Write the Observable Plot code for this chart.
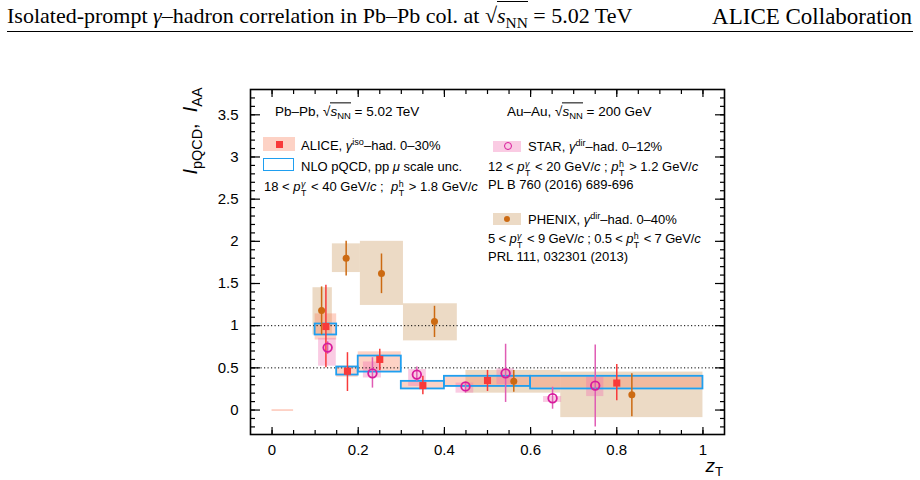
<!DOCTYPE html>
<html><head><meta charset="utf-8">
<script src="https://cdn.jsdelivr.net/npm/d3@7"></script>
<script src="https://cdn.jsdelivr.net/npm/@observablehq/plot@0.6"></script>
<style>
body{margin:0;background:#fff;}
#wrap{position:relative;width:920px;height:480px;overflow:hidden;font-family:"Liberation Sans",Arial,sans-serif;color:#000;}
#wrap svg{position:absolute;left:0;top:0;}
.hdr{position:absolute;top:5px;font-family:"Liberation Serif","Times New Roman",serif;font-size:22px;line-height:1;white-space:nowrap;}
.hrule{position:absolute;left:7px;width:906px;top:31px;height:0;border-top:1.5px solid #000;}
.lg{position:absolute;font-size:13px;white-space:nowrap;line-height:1;transform:translateY(-50%);}
.ov{border-top:1px solid #000;padding-top:1px;}
.sb{font-size:0.7em;vertical-align:-0.3em;}
.sp{font-size:0.7em;vertical-align:0.45em;}
.st{display:inline-block;position:relative;font-size:0.68em;width:0.62em;height:1em;margin:0 1px 0 0.5px;}
.st .t{position:absolute;left:0;top:-0.3em;line-height:1;}
.st .b{position:absolute;left:0;top:0.72em;line-height:1;}
.sw{position:absolute;}
.ylab{position:absolute;left:192px;top:131px;transform:translate(-50%,-50%) rotate(-90deg);white-space:nowrap;font-size:20px;line-height:1;}
.ylab .sb{font-size:0.72em;vertical-align:-0.35em;}
.xlab{position:absolute;right:197px;top:467px;transform:translateY(-50%);font-size:19px;line-height:1;white-space:nowrap;}
.xlab .sb{font-size:0.7em;vertical-align:-0.3em;}
</style></head>
<body>
<div id="wrap"></div>
<script>
// ---------- data ----------
// ALICE gamma^iso-hadron, Pb-Pb 0-30%
const aliceZ      = [0.125, 0.175, 0.25, 0.35, 0.5, 0.8];
const aliceI      = [0.99, 0.46, 0.60, 0.29, 0.35, 0.32];
const aliceStatLo = [0.50, 0.22, 0.47, 0.18, 0.22, 0.11];
const aliceStatHi = [1.48, 0.68, 0.72, 0.40, 0.47, 0.54];
const aliceBinLo  = [0.10, 0.15, 0.20, 0.30, 0.40, 0.60];
const aliceBinHi  = [0.15, 0.20, 0.30, 0.40, 0.60, 1.00];
const aliceSysLo  = [0.83, 0.39, 0.45, 0.245, 0.27, 0.26];
const aliceSysHi  = [1.14, 0.52, 0.69, 0.35, 0.40, 0.40];
// ALICE global (normalisation) uncertainty bar at z_T 0-0.05
const aliceGlobalZLo = [0.0];
const aliceGlobalZHi = [0.05];
const aliceGlobalY   = [0.0];
// NLO pQCD pp mu scale uncertainty bands
const nloLo = [0.89, 0.415, 0.45, 0.25, 0.28, 0.25];
const nloHi = [1.02, 0.51, 0.64, 0.34, 0.40, 0.40];
// STAR gamma^dir-hadron, Au-Au 0-12%
const starZ      = [0.129, 0.233, 0.336, 0.449, 0.542, 0.651, 0.75];
const starI      = [0.74, 0.435, 0.42, 0.28, 0.435, 0.14, 0.29];
const starStatLo = [0.66, 0.26, 0.34, 0.20, 0.09, 0.01, -0.20];
const starStatHi = [0.81, 0.62, 0.51, 0.32, 0.78, 0.27, 0.77];
const starBoxLo  = [0.108, 0.212, 0.317, 0.427, 0.522, 0.630, 0.730];
const starBoxHi  = [0.149, 0.254, 0.358, 0.468, 0.562, 0.672, 0.770];
const starSysLo  = [0.52, 0.38, 0.28, 0.20, 0.30, 0.09, 0.16];
const starSysHi  = [0.85, 0.57, 0.48, 0.32, 0.49, 0.16, 0.39];
// PHENIX gamma^dir-hadron, Au-Au 0-40%
const phxZ      = [0.115, 0.172, 0.254, 0.377, 0.561, 0.835];
const phxI      = [1.18, 1.80, 1.62, 1.05, 0.34, 0.18];
const phxStatLo = [0.89, 1.59, 1.38, 0.86, 0.21, -0.08];
const phxStatHi = [1.46, 2.00, 1.85, 1.23, 0.47, 0.43];
const phxBoxLo  = [0.095, 0.140, 0.205, 0.305, 0.450, 0.670];
const phxBoxHi  = [0.140, 0.205, 0.305, 0.430, 0.670, 1.000];
const phxSysLo  = [0.89, 1.63, 1.24, 0.82, 0.20, -0.09];
const phxSysHi  = [1.45, 1.97, 2.00, 1.26, 0.47, 0.45];
// reference lines
const refLines = [0.5, 1];
// ticks
const yMajorTicks = [0, 0.5, 1, 1.5, 2, 2.5, 3, 3.5];
const yMajorLabels = ["0", "0.5", "1", "1.5", "2", "2.5", "3", "3.5"];
const xMajorTicks = [0, 0.2, 0.4, 0.6, 0.8, 1];
const xMajorLabels = ["0", "0.2", "0.4", "0.6", "0.8", "1"];
const yMinorTicks = d3.range(-2, 38).map(i => i / 10);
const xMinorTicks = d3.range(0, 21).map(i => i / 20);

// ---------- tables ----------
const alice = aliceZ.map((z, i) => ({z, I: aliceI[i], lo: aliceStatLo[i], hi: aliceStatHi[i],
  x1: aliceBinLo[i], x2: aliceBinHi[i], s1: aliceSysLo[i], s2: aliceSysHi[i], n1: nloLo[i], n2: nloHi[i]}));
const star = starZ.map((z, i) => ({z, I: starI[i], lo: starStatLo[i], hi: starStatHi[i],
  x1: starBoxLo[i], x2: starBoxHi[i], s1: starSysLo[i], s2: starSysHi[i]}));
const phx = phxZ.map((z, i) => ({z, I: phxI[i], lo: phxStatLo[i], hi: phxStatHi[i],
  x1: phxBoxLo[i], x2: phxBoxHi[i], s1: phxSysLo[i], s2: phxSysHi[i]}));
const glob = aliceGlobalY.map((y, i) => ({y, x1: aliceGlobalZLo[i], x2: aliceGlobalZHi[i]}));
const yLab = new Map(yMajorTicks.map((t, i) => [t, yMajorLabels[i]]));
const xLab = new Map(xMajorTicks.map((t, i) => [t, xMajorLabels[i]]));

const C = {
  aliceBox: "#fb7d5a", alice: "#f83a3a",
  nlo: "#1f9ff0",
  starBox: "#f06bb0", star: "#d81b9c", starBar: "#e05cb4",
  phxBox: "#c8965a", phx: "#cc6a12"
};
const noText = () => "";

const plot = Plot.plot({
  width: 920, height: 480,
  marginLeft: 250, marginRight: 196, marginTop: 89, marginBottom: 46,
  x: {domain: [-0.05, 1.05]},
  y: {domain: [-0.29, 3.80]},
  style: {fontFamily: "Liberation Sans, Arial, sans-serif", fontSize: "15px", color: "#000", background: "#fff"},
  marks: [
    Plot.rect(phx, {x1: "x1", x2: "x2", y1: "s1", y2: "s2", fill: C.phxBox, fillOpacity: 0.35}),
    Plot.rect(alice, {x1: "x1", x2: "x2", y1: "s1", y2: "s2", fill: C.aliceBox, fillOpacity: 0.35}),
    Plot.rect(star, {x1: "x1", x2: "x2", y1: "s1", y2: "s2", fill: C.starBox, fillOpacity: 0.35}),
    Plot.ruleY(glob, {y: "y", x1: "x1", x2: "x2", stroke: C.aliceBox, strokeOpacity: 0.55, strokeWidth: 1.2}),
    Plot.ruleY(refLines, {stroke: "#000", strokeWidth: 1, strokeDasharray: "1.2,2.3"}),
    Plot.rect(alice, {x1: "x1", x2: "x2", y1: "n1", y2: "n2", fill: "none", stroke: C.nlo, strokeWidth: 1.8}),
    Plot.ruleX(phx, {x: "z", y1: "lo", y2: "hi", stroke: C.phx, strokeWidth: 1.5}),
    Plot.ruleX(star, {x: "z", y1: "lo", y2: "hi", stroke: C.starBar, strokeWidth: 1.5}),
    Plot.ruleX(alice, {x: "z", y1: "lo", y2: "hi", stroke: C.alice, strokeWidth: 1.5}),
    Plot.dot(phx, {x: "z", y: "I", r: 3.5, fill: C.phx, stroke: "none"}),
    Plot.dot(star, {x: "z", y: "I", r: 4.3, fill: "none", stroke: C.star, strokeWidth: 1.8}),
    Plot.dot(alice, {x: "z", y: "I", r: 4, symbol: "square", fill: C.alice, stroke: "none"}),
    Plot.frame({stroke: "#000", strokeWidth: 1.6}),
    Plot.axisY(yMinorTicks, {anchor: "left", tickSize: -5, tickFormat: noText, label: null, strokeWidth: 1.2}),
    Plot.axisY(yMajorTicks, {anchor: "left", tickSize: -10, tickFormat: noText, label: null, strokeWidth: 1.2}),
    Plot.axisY(yMajorTicks, {anchor: "left", tickSize: 0, tickPadding: 12, tickFormat: d => yLab.get(d), label: null, fontSize: 15}),
    Plot.axisY(yMinorTicks, {anchor: "right", tickSize: -5, tickFormat: noText, label: null, strokeWidth: 1.2}),
    Plot.axisY(yMajorTicks, {anchor: "right", tickSize: -10, tickFormat: noText, label: null, strokeWidth: 1.2}),
    Plot.axisX(xMinorTicks, {anchor: "bottom", tickSize: -4, tickFormat: noText, label: null, strokeWidth: 1.2}),
    Plot.axisX(xMajorTicks, {anchor: "bottom", tickSize: -7, tickFormat: noText, label: null, strokeWidth: 1.2}),
    Plot.axisX(xMajorTicks, {anchor: "bottom", tickSize: 0, tickPadding: 10, tickFormat: d => xLab.get(d), label: null, fontSize: 15}),
    Plot.axisX(xMinorTicks, {anchor: "top", tickSize: -4, tickFormat: noText, label: null, strokeWidth: 1.2}),
    Plot.axisX(xMajorTicks, {anchor: "top", tickSize: -7, tickFormat: noText, label: null, strokeWidth: 1.2})
  ]
});
const wrap = document.getElementById("wrap");
wrap.appendChild(plot);

const sq = '<span>√<span class="ov"><i>s</i><span class="sb">NN</span></span></span>';
const pt = (top) => `<i>p</i><span class="st"><span class="t">${top}</span><span class="b">T</span></span>`;
const html = `
<div class="hdr" style="left:7px">Isolated-prompt <i>γ</i>–hadron correlation in Pb–Pb col. at ${sq} = 5.02 TeV</div>
<div class="hdr" style="right:8px;font-size:23px">ALICE Collaboration</div>
<div class="hrule"></div>

<div class="lg" style="left:275px;top:113px;font-size:13.5px">Pb–Pb, ${sq} = 5.02 TeV</div>
<div class="sw" style="left:263px;top:137px;width:32px;height:14px;background:#fdd2c5"></div>
<div class="sw" style="left:276px;top:141px;width:7px;height:7px;background:${C.alice}"></div>
<div class="lg" style="left:301px;top:145px">ALICE, <i>γ</i><span class="sp">iso</span>–had. 0–30%</div>
<div class="sw" style="left:263px;top:158px;width:29px;height:11px;border:1.6px solid ${C.nlo}"></div>
<div class="lg" style="left:301px;top:166px">NLO pQCD, pp <i>μ</i> scale unc.</div>
<div class="lg" style="left:264px;top:186px">18 &lt; ${pt('<i>γ</i>')} &lt; 40 GeV/<i>c</i> ;&nbsp; ${pt('h')} &gt; 1.8 GeV/<i>c</i></div>

<div class="lg" style="left:507px;top:113px;font-size:13.5px">Au–Au, ${sq} = 200 GeV</div>
<div class="sw" style="left:493px;top:141px;width:28px;height:11px;background:#facbe3"></div>
<div class="sw" style="left:503.5px;top:142px;width:6px;height:6px;border:1.6px solid ${C.star};border-radius:50%"></div>
<div class="lg" style="left:528px;top:146px">STAR, <i>γ</i><span class="sp">dir</span>–had. 0–12%</div>
<div class="lg" style="left:488px;top:166px">12 &lt; ${pt('<i>γ</i>')} &lt; 20 GeV/<i>c</i> ;&nbsp;${pt('h')} &gt; 1.2 GeV/<i>c</i></div>
<div class="lg" style="left:488px;top:184px">PL B 760 (2016) 689-696</div>
<div class="sw" style="left:493px;top:213px;width:28px;height:12px;background:#ecdac5"></div>
<div class="sw" style="left:504px;top:216px;width:6px;height:6px;background:${C.phx};border-radius:50%"></div>
<div class="lg" style="left:528px;top:219px">PHENIX, <i>γ</i><span class="sp">dir</span>–had. 0–40%</div>
<div class="lg" style="left:488px;top:238px;letter-spacing:-0.15px">5 &lt; ${pt('<i>γ</i>')} &lt; 9 GeV/<i>c</i> ; 0.5 &lt; ${pt('h')} &lt; 7 GeV/<i>c</i></div>
<div class="lg" style="left:488px;top:256px">PRL 111, 032301 (2013)</div>

<div class="ylab"><i>I</i><span class="sb">pQCD</span>, &nbsp;<i>I</i><span class="sb">AA</span></div>
<div class="xlab"><i>z</i><span class="sb">T</span></div>
`;
wrap.insertAdjacentHTML("beforeend", html);
</script>
</body></html>
